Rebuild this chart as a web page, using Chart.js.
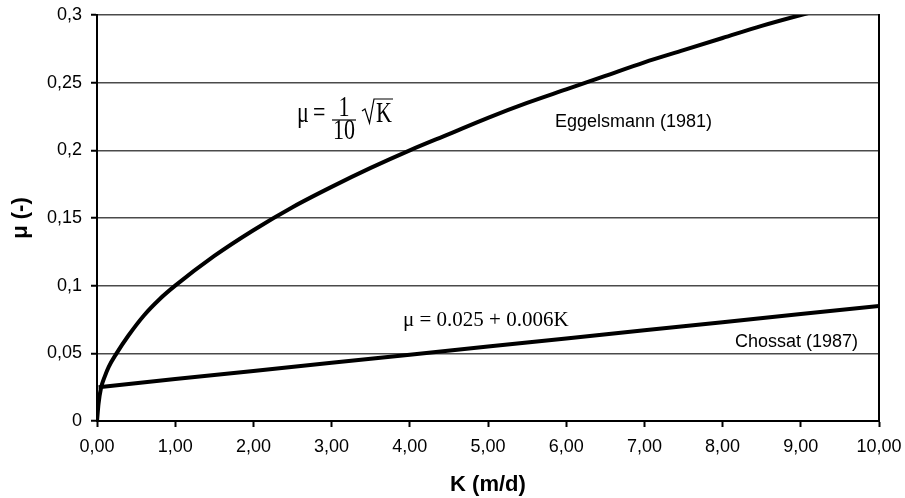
<!DOCTYPE html>
<html>
<head>
<meta charset="utf-8">
<script src="https://cdn.jsdelivr.net/npm/chart.js@4"></script>
<style>
  html, body { margin: 0; padding: 0; background: #fff; }
  #c { display: block; }
</style>
</head>
<body>
<canvas id="c" width="905" height="498"></canvas>
<script>
// ---- data ----
const eggK  = [0, 0.02, 0.05, 0.1, 0.15, 0.25, 0.4, 0.6, 0.8, 1.0, 1.5, 2.0, 2.5, 3.0, 3.5, 4.0, 4.5, 5.0, 5.5, 6.0, 6.5, 7.0, 7.5, 8.0, 8.5, 9.0, 9.2];
const eggMu = [0, 0.013, 0.024, 0.033, 0.040, 0.050, 0.063, 0.078, 0.090, 0.100, 0.122, 0.141, 0.158, 0.173, 0.187, 0.200, 0.212, 0.224, 0.235, 0.245, 0.255, 0.265, 0.274, 0.283, 0.292, 0.300, 0.303];
const choK  = [0.02, 1, 2, 3, 4, 5, 6, 7, 8, 9, 10];
const choMu = [0.025, 0.031, 0.037, 0.043, 0.049, 0.055, 0.061, 0.067, 0.073, 0.079, 0.085];
const xTickLabels = ["0,00","1,00","2,00","3,00","4,00","5,00","6,00","7,00","8,00","9,00","10,00"];
const yTickValues = [0, 0.05, 0.1, 0.15, 0.2, 0.25, 0.3];
const yTickLabels = ["0","0,05","0,1","0,15","0,2","0,25","0,3"];
const seriesNames = ["Eggelsmann (1981)", "Chossat (1987)"];
const xTitle = "K (m/d)";
const yTitle = "μ (-)";

const SANS = "'Liberation Sans', Arial, sans-serif";
const SERIF = "'Liberation Serif', 'Times New Roman', serif";

const toPts = (xs, ys) => xs.map((x, i) => ({ x: x, y: ys[i] }));

const annotations = {
  id: 'annotations',
  afterDraw(chart) {
    const ctx = chart.ctx;
    const a = chart.chartArea;
    ctx.save();
    // right frame line
    ctx.strokeStyle = '#000';
    ctx.lineWidth = 2;
    ctx.beginPath();
    ctx.moveTo(a.right, a.top - 1);
    ctx.lineTo(a.right, a.bottom);
    ctx.stroke();

    // series labels
    ctx.fillStyle = '#000';
    ctx.font = '18px ' + SANS;
    ctx.textBaseline = 'alphabetic';
    ctx.textAlign = 'left';
    ctx.fillText(seriesNames[0], 555, 127);
    ctx.textAlign = 'right';
    ctx.fillText(seriesNames[1], 858, 347);

    // equation 2
    ctx.textAlign = 'left';
    ctx.font = '21px ' + SERIF;
    ctx.fillText('μ = 0.025 + 0.006K', 403, 326);

    // equation 1 (fraction with square root), vertically stretched
    ctx.save();
    ctx.translate(0, 122);
    ctx.scale(1, 1.3);
    ctx.font = '22px ' + SERIF;
    ctx.textAlign = 'left';
    ctx.fillText('μ', 297, 0);
    ctx.fillText('=', 313, 0);
    ctx.textAlign = 'center';
    ctx.fillText('1', 344, -4.6);
    ctx.fillText('10', 344, 13);
    ctx.textAlign = 'left';
    ctx.fillText('K', 376, 0);
    ctx.restore();
    ctx.lineWidth = 1.2;
    ctx.strokeStyle = '#000';
    ctx.beginPath();
    ctx.moveTo(332, 120);
    ctx.lineTo(356, 120);
    ctx.stroke();
    ctx.beginPath();
    ctx.moveTo(362, 111);
    ctx.lineTo(365, 109);
    ctx.lineTo(369.5, 123);
    ctx.lineTo(374, 99);
    ctx.lineTo(393, 99);
    ctx.stroke();
    ctx.restore();
  }
};

new Chart(document.getElementById('c'), {
  type: 'line',
  data: {
    datasets: [
      { label: seriesNames[0], data: toPts(eggK, eggMu), borderColor: '#000', borderWidth: 4,
        pointRadius: 0, fill: false, cubicInterpolationMode: 'monotone' },
      { label: seriesNames[1], data: toPts(choK, choMu), borderColor: '#000', borderWidth: 4,
        pointRadius: 0, fill: false }
    ]
  },
  options: {
    responsive: false,
    animation: false,
    devicePixelRatio: 1,
    layout: { padding: { left: 0, right: 26, top: 15, bottom: 0 } },
    plugins: { legend: { display: false }, tooltip: { enabled: false } },
    scales: {
      x: {
        type: 'linear', min: 0, max: 10,
        afterFit(s) { s.height = 77; s.paddingLeft = 0; s.paddingRight = 0; },
        afterBuildTicks(s) { s.ticks = xTickLabels.map((_, i) => ({ value: i })); },
        ticks: {
          callback: (v, i) => xTickLabels[i],
          color: '#000', font: { family: SANS, size: 18 }, padding: 9, maxRotation: 0, autoSkip: false
        },
        grid: { drawOnChartArea: false, drawTicks: true, tickLength: 6, tickColor: '#000', tickWidth: 2 },
        border: { display: true, color: '#000', width: 2 },
        title: { display: true, text: xTitle, color: '#000', font: { family: SANS, size: 22, weight: 'bold' }, padding: { top: 0, bottom: 0 } }
      },
      y: {
        type: 'linear', min: 0, max: 0.3,
        afterFit(s) { s.width = 97; s.paddingTop = 0; s.paddingBottom = 0; },
        afterBuildTicks(s) { s.ticks = yTickValues.map(v => ({ value: v })); },
        ticks: {
          callback: (v, i) => yTickLabels[i],
          color: '#000', font: { family: SANS, size: 18 }, padding: 9
        },
        grid: { color: '#4a4a4a', lineWidth: 1.5, drawTicks: true, tickLength: 6, tickColor: '#000', tickWidth: 2 },
        border: { display: true, color: '#000', width: 2 },
        title: { display: true, text: yTitle, color: '#000', font: { family: SANS, size: 22, weight: 'bold' }, padding: { top: 8, bottom: 0 } }
      }
    }
  },
  plugins: [annotations]
});
</script>
</body>
</html>
